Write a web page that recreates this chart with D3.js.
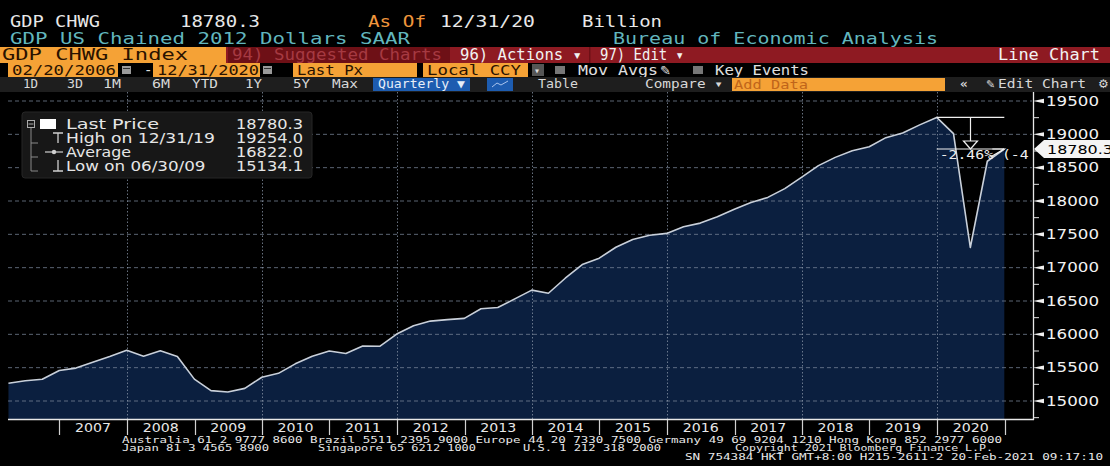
<!DOCTYPE html>
<html><head><meta charset="utf-8">
<script src="https://cdn.jsdelivr.net/npm/d3@7"></script>
<style>html,body{margin:0;padding:0;background:#000;overflow:hidden}</style>
</head><body><svg id="c" width="1110" height="466"></svg>
<script>
// ---------------- DATA ----------------
const quarters = [
 "2006Q1","2006Q2","2006Q3","2006Q4","2007Q1","2007Q2","2007Q3","2007Q4",
 "2008Q1","2008Q2","2008Q3","2008Q4","2009Q1","2009Q2","2009Q3","2009Q4",
 "2010Q1","2010Q2","2010Q3","2010Q4","2011Q1","2011Q2","2011Q3","2011Q4",
 "2012Q1","2012Q2","2012Q3","2012Q4","2013Q1","2013Q2","2013Q3","2013Q4",
 "2014Q1","2014Q2","2014Q3","2014Q4","2015Q1","2015Q2","2015Q3","2015Q4",
 "2016Q1","2016Q2","2016Q3","2016Q4","2017Q1","2017Q2","2017Q3","2017Q4",
 "2018Q1","2018Q2","2018Q3","2018Q4","2019Q1","2019Q2","2019Q3","2019Q4",
 "2020Q1","2020Q2","2020Q3","2020Q4"];
const gdpValues = [
 15267.0,15302.7,15326.4,15456.9,15493.3,15582.1,15666.7,15762.0,
 15671.4,15752.3,15667.0,15328.0,15155.9,15134.1,15189.2,15356.1,
 15415.1,15557.3,15671.9,15750.6,15712.8,15825.1,15820.7,16004.1,
 16129.4,16198.8,16220.7,16239.1,16382.9,16403.2,16531.7,16663.6,
 16616.5,16841.5,17047.1,17143.0,17305.8,17422.8,17486.0,17514.1,
 17613.3,17668.2,17764.4,17876.2,17977.3,18054.1,18185.6,18359.4,
 18530.5,18654.4,18752.4,18813.9,18950.3,19020.6,19141.7,19254.0,
 19010.8,17302.5,18596.5,18780.3];
const yTicks = [15000,15500,16000,16500,17000,17500,18000,18500,19000,19500];
const yMinorTicks = [14750,15250,15750,16250,16750,17250,17750,18250,18750,19250];
const yearLabels = [2007,2008,2009,2010,2011,2012,2013,2014,2015,2016,2017,2018,2019,2020];
const gridYears = [2008,2010,2012,2014,2016,2018,2020];
const legendLabels = ["Last Price","High on 12/31/19","Average","Low on 06/30/09"];
const legendValues = ["18780.3","19254.0","16822.0","15134.1"];
const lastValue = 18780.3, highValue = 19254.0, highQuarter = "2019Q4";
const changeLabel = "-2.46% (-4";   // visible (clipped) part of the change label

// ---------------- SETUP ----------------
const svg = d3.select("#c");
const MONO = "'DejaVu Sans Mono','Liberation Mono',monospace";
const SANS = "'DejaVu Sans','Liberation Sans',sans-serif";
const qDate = q => { const y=+q.slice(0,4), k=+q.slice(5); return new Date(y, k*3, 0); };
const data = quarters.map((q,i)=>({d:qDate(q), v:gdpValues[i]}));

const x = d3.scaleTime().domain([new Date(2006,0,1), new Date(2021,0,1)]).range([-8, 1004.5]);
const y = d3.scaleLinear().domain([15000,19500]).range([401,101]);
const plotL=8, plotR=1033, plotT=92, plotB=419;

function txt(g, xx, yy, s, o={}) {
  const t = g.append("text").attr("x",xx).attr("y",yy).text(s)
    .attr("font-family", o.family||MONO).attr("font-size", o.size||14)
    .attr("fill", o.color||"#e6e6e6");
  if (o.w) t.attr("textLength", o.w).attr("lengthAdjust","spacingAndGlyphs");
  if (o.anchor) t.attr("text-anchor", o.anchor);
  if (o.weight) t.attr("font-weight", o.weight);
  return t;
}
function rect(g,x0,y0,w,h,fill){ return g.append("rect").attr("x",x0).attr("y",y0).attr("width",w).attr("height",h).attr("fill",fill); }

svg.append("rect").attr("width",1110).attr("height",466).attr("fill","#000");

// ---------------- HEADER ----------------
const H = svg.append("g");
txt(H,10,27,"GDP CHWG",{size:16.5,w:90,color:"#e8e8e8"});
txt(H,180,27,"18780.3",{size:16.5,w:80,color:"#e8e8e8"});
txt(H,368,27,"As Of",{size:16.5,w:58,color:"#f0963c"});
txt(H,440,27,"12/31/20",{size:16.5,w:95,color:"#e8e8e8"});
txt(H,582,27,"Billion",{size:16.5,w:80,color:"#e8e8e8"});
txt(H,10,44,"GDP US Chained 2012 Dollars SAAR",{size:16.5,w:400,color:"#62b6be"});
txt(H,613,44,"Bureau of Economic Analysis",{size:16.5,w:325,color:"#62b6be"});

// row 3
rect(H,0,47,1110,16,"#8e1a22");
rect(H,0,47,226,16,"#f5a236");
rect(H,228,47,222,16,"#6e1016");
txt(H,2,60,"GDP CHWG Index",{size:15,w:186,color:"#2a1200"});
txt(H,232,60,"94) Suggested Charts",{size:15,w:210,color:"#a63a42"});
txt(H,460,60,"96) Actions \u25BE",{size:15,w:122,color:"#f2f2f2"});
rect(H,589,47,1.5,16,"#6e1016");
txt(H,600,60,"97) Edit \u25BE",{size:15,w:84,color:"#f2f2f2"});
txt(H,1100,60,"Line Chart",{size:15,w:102,color:"#f2f2f2",anchor:"end"});

// row 4
rect(H,8,63,110,14,"#f5a236");
txt(H,12,75,"02/20/2006",{size:14,w:104,color:"#2a1200"});
rect(H,122,66,9,8,"#9a9a9a"); rect(H,123,68,7,1,"#333");
txt(H,144,75,"-",{size:14,color:"#e0e0e0"});
rect(H,153,63,107,14,"#f5a236");
txt(H,157,75,"12/31/2020",{size:14,w:102,color:"#2a1200"});
rect(H,263,66,9,8,"#9a9a9a"); rect(H,264,68,7,1,"#333");
rect(H,293,63,124,14,"#f5a236");
txt(H,297,75,"Last Px",{size:14,w:66,color:"#2a1200"});
rect(H,423,63,105,14,"#f5a236");
txt(H,427,75,"Local CCY",{size:14,w:94,color:"#2a1200"});
rect(H,532,64,12,12,"#555");
txt(H,534,74,"\u25BE",{size:10,color:"#ddd"});
rect(H,555,66,10,8,"#777");
txt(H,578,75,"Mov Avgs",{size:14,w:80,color:"#e0e0e0"});
txt(H,660,75,"\u270E",{size:13,color:"#e0e0e0",family:SANS});
rect(H,693,66,10,8,"#777");
txt(H,715,75,"Key Events",{size:14,w:94,color:"#e0e0e0"});

// row 5
rect(H,0,77,1110,15,"#1e1e1e");
const rangeBtns = [["1D",23,15],["3D",67,16],["1M",103,18],["6M",152,18],["YTD",192,26],["1Y",245,17],["5Y",293,17],["Max",332,26]];
rangeBtns.forEach(b=>txt(H,b[1],88,b[0],{size:12,w:b[2],color:"#d8d8d8"}));
rect(H,373,78,97,13,"#1d5cb0");
txt(H,378,88,"Quarterly \u25BC",{size:12,w:87,color:"#e8eef8"});
rect(H,487,78,26,13,"#1d5cb0");
H.append("path").attr("d","M492,87 L497,83 L501,85 L508,81").attr("stroke","#aac4ee").attr("fill","none").attr("stroke-width",1);
txt(H,538,88,"Table",{size:12,w:40,color:"#d8d8d8"});
txt(H,645,88,"Compare \u25BE",{size:12,w:78,color:"#d8d8d8"});
rect(H,732,78,213,13,"#f5a236");
txt(H,734,89,"Add Data",{size:12,w:74,color:"#c0651a"});
txt(H,960,88,"\u00AB",{size:13,color:"#d8d8d8",weight:"bold"});
txt(H,986,88,"\u270E",{size:11,color:"#d8d8d8",family:SANS});
txt(H,998,88,"Edit Chart",{size:12,w:88,color:"#d8d8d8"});
txt(H,1098,88,"\u2699",{size:12,color:"#d8d8d8",family:SANS});

// ---------------- PLOT ----------------
svg.append("defs").append("clipPath").attr("id","pc")
  .append("rect").attr("x",plotL).attr("y",plotT).attr("width",plotR-plotL-1).attr("height",plotB-plotT);
const P = svg.append("g").attr("clip-path","url(#pc)");

const area = d3.area().x(d=>x(d.d)).y0(plotB).y1(d=>y(d.v));
const line = d3.line().x(d=>x(d.d)).y(d=>y(d.v));
P.append("path").datum(data).attr("d",area).attr("fill","#0b1f3f");

// grid
P.selectAll(".hg").data(yTicks).join("line")
  .attr("x1",plotL).attr("x2",plotR).attr("y1",d=>y(d)).attr("y2",d=>y(d))
  .attr("stroke","#7a8699").attr("stroke-width",1).attr("stroke-dasharray","4,3").attr("opacity",0.75);
P.selectAll(".vg").data(gridYears).join("line")
  .attr("x1",d=>Math.round(x(new Date(d,0,1)))+0.5).attr("x2",d=>Math.round(x(new Date(d,0,1)))+0.5)
  .attr("y1",plotT).attr("y2",plotB)
  .attr("stroke","#8a96a8").attr("stroke-width",1).attr("stroke-dasharray","1.5,2").attr("opacity",0.75);

P.append("path").datum(data).attr("d",line).attr("fill","none").attr("stroke","#c9d0da").attr("stroke-width",1.6).attr("stroke-linejoin","round");

// annotation: high to last
const hx = x(qDate(highQuarter)), lastX = x(data[data.length-1].d);
const hy = y(highValue), ly = y(lastValue);
const A = svg.append("g").attr("clip-path","url(#pc)");
A.append("line").attr("x1",hx).attr("x2",lastX).attr("y1",hy).attr("y2",hy).attr("stroke","#f0f0f0").attr("stroke-width",1.2);
A.append("line").attr("x1",hx).attr("x2",lastX).attr("y1",ly).attr("y2",ly).attr("stroke","#f0f0f0").attr("stroke-width",1.2);
const ax = (hx+lastX)/2;
A.append("line").attr("x1",ax).attr("x2",ax).attr("y1",hy).attr("y2",ly-8).attr("stroke","#f0f0f0").attr("stroke-width",1.2);
A.append("path").attr("d",`M${ax-7},${ly-8} L${ax+7},${ly-8} L${ax},${ly} Z`).attr("fill","#000").attr("stroke","#f0f0f0").attr("stroke-width",1.2);
A.append("path").attr("d",`M${lastX-12},${ly} L${lastX},${ly} L${lastX-14},${ly+8}`).attr("fill","none").attr("stroke","#f0f0f0").attr("stroke-width",1.2);
txt(A,hx+3,ly+10,changeLabel,{size:13,w:89,color:"#f0f0f0"});

// axes lines
svg.append("line").attr("x1",plotR+0.5).attr("x2",plotR+0.5).attr("y1",plotT).attr("y2",plotB+1).attr("stroke","#e8e8e8").attr("stroke-width",1.3);
svg.append("line").attr("x1",plotL).attr("x2",plotR+1).attr("y1",plotB+0.5).attr("y2",plotB+0.5).attr("stroke","#e8e8e8").attr("stroke-width",1.3);

// right axis ticks
const Ax = svg.append("g");
Ax.selectAll(".mj").data(yTicks).join("path")
  .attr("d",d=>`M${plotR},${y(d)} L${plotR+11},${y(d)-2.2} L${plotR+11},${y(d)+2.2} Z`).attr("fill","#f0f0f0");
Ax.selectAll(".mn").data(yMinorTicks).join("line")
  .attr("x1",plotR).attr("x2",plotR+6).attr("y1",d=>y(d)).attr("y2",d=>y(d)).attr("stroke","#e0e0e0").attr("stroke-width",1);
Ax.selectAll(".tl").data(yTicks).join("text")
  .attr("x",plotR+13).attr("y",d=>y(d)+4.8).text(d=>d)
  .attr("font-family",SANS).attr("font-size",14).attr("fill","#f2f2f2")
  .attr("textLength",53).attr("lengthAdjust","spacingAndGlyphs");

// last price tag
Ax.append("path").attr("d",`M${plotR+1},${ly} L${plotR+11},${ly-9} L1110,${ly-9} L1110,${ly+9} L${plotR+11},${ly+9} Z`).attr("fill","#f4f4f4");
Ax.append("text").attr("x",plotR+14).attr("y",ly+4.8).text(d3.format(".1f")(lastValue))
  .attr("font-family",SANS).attr("font-size",12.5).attr("fill","#000")
  .attr("textLength",66).attr("lengthAdjust","spacingAndGlyphs");

// bottom year labels
const B = svg.append("g");
const sepYears = yearLabels.concat([2021]);
B.selectAll(".sep").data(sepYears).join("line")
  .attr("x1",d=>Math.round(x(new Date(d,0,1)))+0.5).attr("x2",d=>Math.round(x(new Date(d,0,1)))+0.5)
  .attr("y1",plotB+1).attr("y2",plotB+16).attr("stroke","#d0d0d0").attr("stroke-width",1.2);
B.selectAll(".yl").data(yearLabels).join("text")
  .attr("x",d=>x(new Date(d,6,2))).attr("y",plotB+13).attr("text-anchor","middle").text(d=>d)
  .attr("font-family",SANS).attr("font-size",13).attr("fill","#e8e8e8")
  .attr("textLength",36).attr("lengthAdjust","spacingAndGlyphs");

// ---------------- LEGEND ----------------
const L = svg.append("g");
L.append("rect").attr("x",22).attr("y",112).attr("width",290).attr("height",66).attr("rx",3).attr("fill","#171717").attr("stroke","#262626");
const ly0 = 129, lstep = 14;
L.append("rect").attr("x",27.5).attr("y",120.5).attr("width",7).attr("height",7).attr("fill","none").attr("stroke","#aaa");
L.append("line").attr("x1",28.5).attr("x2",33.5).attr("y1",124).attr("y2",124).attr("stroke","#aaa");
L.append("rect").attr("x",40).attr("y",119).attr("width",16).attr("height",10).attr("fill","#fff");
L.append("path").attr("d","M31,128 V171 H38 M31,143 H38 M31,157 H38").attr("fill","none").attr("stroke","#8a8a8a");
// icons
L.append("path").attr("d",`M53,${ly0+lstep-10} H63 M58,${ly0+lstep-10} V${ly0+lstep}`).attr("stroke","#cfcfcf").attr("fill","none").attr("stroke-width",1.3);
L.append("path").attr("d",`M45,${ly0+2*lstep-5} H63`).attr("stroke","#cfcfcf").attr("stroke-width",1.2);
L.append("circle").attr("cx",54).attr("cy",ly0+2*lstep-5).attr("r",2.2).attr("fill","#cfcfcf");
L.append("path").attr("d",`M58,${ly0+3*lstep-11} V${ly0+3*lstep} M53,${ly0+3*lstep} H63`).attr("stroke","#cfcfcf").attr("fill","none").attr("stroke-width",1.3);
legendLabels.forEach((s,i)=>{
  txt(L,66,ly0+i*lstep,s,{size:13.5,w:s.length*9.3,color:"#e6e6e6",family:SANS});
  txt(L,303,ly0+i*lstep,legendValues[i],{size:13.5,w:67,color:"#e6e6e6",family:SANS,anchor:"end"});
});

// ---------------- FOOTER ----------------
const F = svg.append("g");
const fs = 8.5, fc = "#e8e8e8";
txt(F,122,442.5,"Australia 61 2 9777 8600 Brazil 5511 2395 9000 Europe 44 20 7330 7500 Germany 49 69 9204 1210 Hong Kong 852 2977 6000",{size:fs,w:880,color:fc});
txt(F,122,451,"Japan 81 3 4565 8900",{size:fs,w:147,color:fc});
txt(F,318,451,"Singapore 65 6212 1000",{size:fs,w:158,color:fc});
txt(F,523,451,"U.S. 1 212 318 2000",{size:fs,w:138,color:fc});
txt(F,735,451,"Copyright 2021 Bloomberg Finance L.P.",{size:fs,w:258,color:fc});
txt(F,685,459.5,"SN 754384 HKT  GMT+8:00 H215-2611-2 20-Feb-2021 09:17:10",{size:fs,w:418,color:fc});
</script></body></html>
